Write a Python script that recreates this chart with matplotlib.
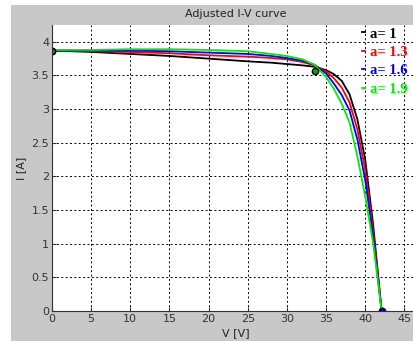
import numpy as np
import matplotlib
matplotlib.use('Agg')
import matplotlib.pyplot as plt
from matplotlib.patches import Rectangle

# curve data
V = [0, 5, 10, 15, 20, 25, 28, 30, 32, 33.5, 35, 36, 37, 38, 39, 40, 41, 42.1]
I_a10 = [3.87, 3.85, 3.82, 3.79, 3.75, 3.71, 3.69, 3.67, 3.65, 3.63, 3.58, 3.52, 3.42, 3.22, 2.85, 2.25, 1.30, 0]
I_a13 = [3.87, 3.86, 3.85, 3.83, 3.80, 3.78, 3.76, 3.74, 3.70, 3.65, 3.56, 3.46, 3.32, 3.10, 2.70, 2.10, 1.20, 0]
I_a16 = [3.87, 3.87, 3.87, 3.86, 3.84, 3.82, 3.79, 3.76, 3.72, 3.66, 3.53, 3.38, 3.21, 2.98, 2.55, 1.95, 1.12, 0]
I_a19 = [3.88, 3.88, 3.89, 3.89, 3.88, 3.86, 3.82, 3.79, 3.74, 3.66, 3.48, 3.30, 3.08, 2.80, 2.30, 1.70, 1.02, 0]
labels = ['a= 1', 'a= 1.3', 'a= 1.6', 'a= 1.9']
colors = ['black', 'red', 'blue', '#00ee00']

# the three marked points: Isc, MPP, Voc
pt_V = [0, 33.6, 42.1]
pt_I = [3.87, 3.56, 0]

fig = plt.figure(figsize=(4.13, 3.41), dpi=100)
fig.patch.set_facecolor('white')
fig.patches.append(Rectangle((11/413, 0), 1, 1 - 5/341, transform=fig.transFigure,
                             facecolor='#c8c8c8', edgecolor='none', zorder=-10))

ax = fig.add_axes([52/413, 30/341, 368/413, 286/341])
for curve, lab, c in zip([I_a10, I_a13, I_a16, I_a19], labels, colors):
    ax.plot(V, curve, color=c, lw=1.3, label=lab)
ax.plot(pt_V[:1], pt_I[:1], 'o', ms=4.5, mfc='#00aa00', mec='black', mew=1.2)
ax.plot(pt_V[1:2], pt_I[1:2], 'o', ms=4.5, mfc='#00aa00', mec='black', mew=1.0)
ax.plot(pt_V[2:], pt_I[2:], 'o', ms=4.5, mfc='blue', mec='black', mew=1.2)

ax.set_xlim(0, 47)
ax.set_ylim(0, 4.25)
ax.set_xticks(np.arange(0, 46, 5))
ax.set_yticks(np.arange(0, 4.01, 0.5))
ax.set_yticklabels(['0', '0.5', '1', '1.5', '2', '2.5', '3', '3.5', '4'])
ax.grid(True, color='black', linestyle=(0, (2, 2.5)), lw=0.7)
ax.tick_params(direction='in', length=3, labelsize=8, colors='#333333', pad=2)
for s in ['top', 'right']:
    ax.spines[s].set_visible(False)
for s in ['left', 'bottom']:
    ax.spines[s].set_color('#333333')
ax.set_axisbelow(True)

ax.set_title('Adjusted I-V curve', fontsize=8, color='#222222', pad=6)
ax.set_xlabel('V [V]', fontsize=8, color='#222222', labelpad=3)
ax.set_ylabel('I [A]', fontsize=8, color='#222222', labelpad=4)

leg = fig.legend(loc='upper left', bbox_to_anchor=(355/413, 1 - 20/341), frameon=False,
                 handlelength=0.2, handletextpad=0.3, labelspacing=0.36, borderpad=0,
                 prop={'family': 'Liberation Serif', 'weight': 'bold', 'size': 10.5})
for t, c in zip(leg.get_texts(), colors):
    t.set_color(c)

fig.savefig('out.png', dpi=100, facecolor=fig.get_facecolor())
